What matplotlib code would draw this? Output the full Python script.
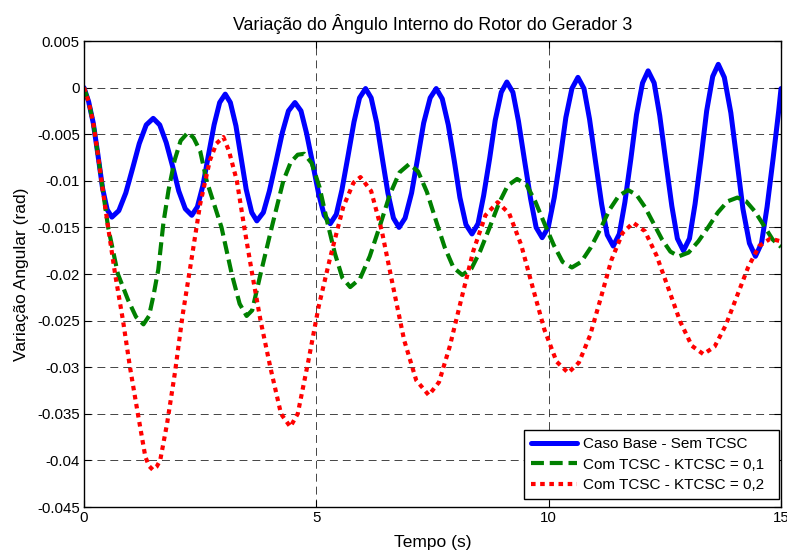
import matplotlib
matplotlib.use('Agg')
import matplotlib.pyplot as plt

plt.rcParams['font.family'] = ['Liberation Sans', 'DejaVu Sans']
plt.rcParams['axes.unicode_minus'] = False

# Caso Base - Sem TCSC
t_base = [0, 0.1, 0.2, 0.3, 0.4, 0.5, 0.6,
          0.75, 0.90, 1.05, 1.19, 1.34, 1.49,
          1.63, 1.77, 1.91, 2.04, 2.18, 2.32,
          2.44, 2.56, 2.68, 2.80, 2.92, 3.04,
          3.15, 3.27, 3.38, 3.49, 3.61, 3.72,
          3.86, 3.99, 4.13, 4.27, 4.40, 4.54,
          4.67, 4.79, 4.92, 5.05, 5.17, 5.30,
          5.43, 5.55, 5.68, 5.81, 5.93, 6.06,
          6.18, 6.30, 6.42, 6.54, 6.66, 6.78,
          6.91, 7.05, 7.18, 7.31, 7.45, 7.58,
          7.71, 7.84, 7.97, 8.09, 8.22, 8.35,
          8.48, 8.60, 8.73, 8.85, 8.98, 9.10,
          9.23, 9.35, 9.48, 9.61, 9.73, 9.86,
          9.99, 10.12, 10.25, 10.37, 10.50, 10.63,
          10.76, 10.88, 11.01, 11.14, 11.26, 11.39,
          11.52, 11.64, 11.77, 11.89, 12.02, 12.14,
          12.27, 12.39, 12.52, 12.65, 12.77, 12.90,
          13.03, 13.15, 13.28, 13.40, 13.53, 13.65,
          13.78, 13.92, 14.05, 14.18, 14.32, 14.45,
          14.58, 14.70, 14.83, 14.95, 15.0]
v_base = [0, -0.0015, -0.0038, -0.0072, -0.0108, -0.0131, -0.0139,
          -0.0132, -0.0113, -0.0086, -0.0060, -0.0040, -0.0033,
          -0.0040, -0.0059, -0.0085, -0.0111, -0.0130, -0.0137,
          -0.0128, -0.0105, -0.0072, -0.0040, -0.0016, -0.0007,
          -0.0016, -0.0041, -0.0075, -0.0109, -0.0134, -0.0143,
          -0.0134, -0.0111, -0.0080, -0.0048, -0.0025, -0.0016,
          -0.0025, -0.0049, -0.0081, -0.0114, -0.0137, -0.0146,
          -0.0136, -0.0110, -0.0074, -0.0037, -0.0011, -0.0001,
          -0.0011, -0.0038, -0.0076, -0.0113, -0.0140, -0.0150,
          -0.0140, -0.0113, -0.0076, -0.0038, -0.0011, -0.0001,
          -0.0012, -0.0040, -0.0079, -0.0118, -0.0147, -0.0157,
          -0.0146, -0.0116, -0.0076, -0.0035, -0.0005, 0.0006,
          -0.0005, -0.0036, -0.0078, -0.0119, -0.0150, -0.0161,
          -0.0150, -0.0118, -0.0075, -0.0032, -0.0001, 0.0011,
          -0.0001, -0.0034, -0.0080, -0.0125, -0.0158, -0.0170,
          -0.0157, -0.0123, -0.0076, -0.0029, 0.0005, 0.0018,
          0.0005, -0.0030, -0.0079, -0.0127, -0.0162, -0.0175,
          -0.0162, -0.0125, -0.0075, -0.0025, 0.0012, 0.0025,
          0.0011, -0.0027, -0.0078, -0.0130, -0.0167, -0.0181,
          -0.0167, -0.0128, -0.0076, -0.0025, -0.0001]

# Com TCSC - KTCSC = 0,1
t_k1 = [0, 0.1, 0.2, 0.3, 0.4, 0.52, 0.73, 0.95, 1.12, 1.28,
        1.40, 1.50, 1.60, 1.71, 1.82, 1.95, 2.08, 2.24,
        2.36, 2.50, 2.64, 2.96, 3.18, 3.35, 3.50,
        3.62, 3.79, 4.04, 4.29, 4.45, 4.60, 4.74,
        4.90, 5.07, 5.23, 5.40, 5.56, 5.73,
        5.94, 6.15, 6.37, 6.58, 6.79, 7.00,
        7.19, 7.38, 7.57, 7.76, 7.95, 8.14,
        8.34, 8.53, 8.73, 8.93, 9.12, 9.32,
        9.52, 9.71, 9.91, 10.11, 10.30, 10.50,
        10.70, 10.90, 11.11, 11.31, 11.51, 11.71,
        11.89, 12.07, 12.26, 12.44, 12.62, 12.80,
        13.01, 13.22, 13.43, 13.64, 13.85, 14.06,
        14.25, 14.44, 14.63, 14.82, 15.0]
v_k1 = [0, -0.0015, -0.0038, -0.0072, -0.0108, -0.0150, -0.0200, -0.0228, -0.0246, -0.0254,
        -0.0245, -0.0222, -0.0195, -0.0145, -0.0110, -0.0078, -0.0057, -0.0048,
        -0.0054, -0.0068, -0.0100, -0.0150, -0.0200, -0.0232, -0.0245,
        -0.0239, -0.0202, -0.0150, -0.0100, -0.0080, -0.0072, -0.0071,
        -0.0081, -0.0107, -0.0143, -0.0178, -0.0204, -0.0214,
        -0.0205, -0.0181, -0.0148, -0.0115, -0.0091, -0.0082,
        -0.0090, -0.0112, -0.0142, -0.0171, -0.0193, -0.0201,
        -0.0194, -0.0175, -0.0150, -0.0124, -0.0105, -0.0098,
        -0.0104, -0.0122, -0.0146, -0.0169, -0.0187, -0.0193,
        -0.0187, -0.0172, -0.0152, -0.0131, -0.0116, -0.0110,
        -0.0115, -0.0128, -0.0146, -0.0163, -0.0176, -0.0181,
        -0.0177, -0.0165, -0.0150, -0.0134, -0.0122, -0.0118,
        -0.0122, -0.0133, -0.0148, -0.0163, -0.0171]

# Com TCSC - KTCSC = 0,2
t_k2 = [0, 0.1, 0.2, 0.3, 0.4, 0.52, 0.67, 0.84, 0.99, 1.16, 1.32, 1.40, 1.48,
        1.56, 1.64, 1.79, 1.96, 2.12, 2.28, 2.50, 2.71, 2.85, 3.00,
        3.12, 3.29, 3.45, 3.62, 3.80, 4.01, 4.24, 4.44,
        4.60, 4.83, 5.05, 5.30, 5.58, 5.80, 5.95,
        6.18, 6.41, 6.65, 6.89, 7.15, 7.42,
        7.64, 7.87, 8.12, 8.38, 8.64, 8.90,
        9.15, 9.41, 9.66, 9.91, 10.17, 10.42,
        10.65, 10.89, 11.12, 11.35, 11.59, 11.82,
        12.07, 12.32, 12.58, 12.83, 13.08, 13.33,
        13.57, 13.81, 14.05, 14.29, 14.53, 14.77, 15.0]
v_k2 = [0, -0.0015, -0.0038, -0.0072, -0.0108, -0.0150, -0.0200, -0.0250, -0.0300, -0.0350, -0.0396, -0.0406, -0.0410,
        -0.0407, -0.0400, -0.0360, -0.0305, -0.0245, -0.0195, -0.0125, -0.0078, -0.0060, -0.0053,
        -0.0068, -0.0100, -0.0150, -0.0200, -0.0250, -0.0300, -0.0350, -0.0364,
        -0.0350, -0.0293, -0.0235, -0.0182, -0.0128, -0.0102, -0.0096,
        -0.0111, -0.0154, -0.0213, -0.0271, -0.0314, -0.0330,
        -0.0316, -0.0278, -0.0227, -0.0175, -0.0137, -0.0123,
        -0.0135, -0.0169, -0.0215, -0.0260, -0.0294, -0.0306,
        -0.0295, -0.0266, -0.0226, -0.0185, -0.0156, -0.0145,
        -0.0154, -0.0180, -0.0216, -0.0251, -0.0277, -0.0286,
        -0.0278, -0.0255, -0.0224, -0.0193, -0.0170, -0.0162, -0.0165]

labels = ['Caso Base - Sem TCSC', 'Com TCSC - KTCSC = 0,1', 'Com TCSC - KTCSC = 0,2']
x_ticks = [0, 5, 10, 15]
y_ticks = [0.005, 0, -0.005, -0.01, -0.015, -0.02, -0.025, -0.03, -0.035, -0.04, -0.045]
y_tick_labels = ['0.005', '0', '-0.005', '-0.01', '-0.015', '-0.02', '-0.025',
                 '-0.03', '-0.035', '-0.04', '-0.045']

W, H = 787, 552
fig = plt.figure(figsize=(W / 100, H / 100), dpi=100)
ax = fig.add_axes([0.1067, 0.0815, 0.8857, 0.8442])

ax.plot(t_base, v_base, color='#0000ff', lw=3.6, solid_capstyle='round',
        solid_joinstyle='round', label=labels[0])
ax.plot(t_k1, v_k1, color='#008000', lw=3.0, linestyle=(0, (3.1, 1.4)),
        dash_capstyle='butt', dash_joinstyle='round', label=labels[1])
ax.plot(t_k2, v_k2, color='#ff0000', lw=3.0, linestyle=(0, (1.1, 1.1)),
        dash_capstyle='butt', label=labels[2])

ax.set_xlim(0, 15)
ax.set_ylim(-0.045, 0.005)
ax.set_xticks(x_ticks)
ax.set_xticklabels([str(x) for x in x_ticks])
ax.set_yticks(y_ticks)
ax.set_yticklabels(y_tick_labels)
ax.tick_params(direction='in', top=True, right=True, length=5, width=0.8,
               labelsize=10.8, pad=3)
ax.grid(True, color='black', linestyle=(0, (9.5, 6)), linewidth=0.6, alpha=0.85)
ax.set_axisbelow(True)
for sp in ax.spines.values():
    sp.set_linewidth(1.0)

ax.set_title('Variação do Ângulo Interno do Rotor do Gerador 3', fontsize=12.9, pad=8)
ax.set_xlabel('Tempo (s)', fontsize=12.5, labelpad=7)
ax.set_ylabel('Variação Angular (rad)', fontsize=12.5, labelpad=6)

# legend box stretched to the MATLAB-style frame size
leg = ax.legend(loc='lower left', mode='expand',
                bbox_to_anchor=(524 / W, 53 / H, 255 / W, 69 / H),
                bbox_transform=fig.transFigure, fontsize=11, frameon=True,
                fancybox=False, edgecolor='black', framealpha=1,
                handlelength=3.0, borderaxespad=0, labelspacing=0.42,
                handletextpad=0.4, borderpad=0.45)
leg.get_frame().set_linewidth(1.0)

fig.savefig('out.png', dpi=100)
